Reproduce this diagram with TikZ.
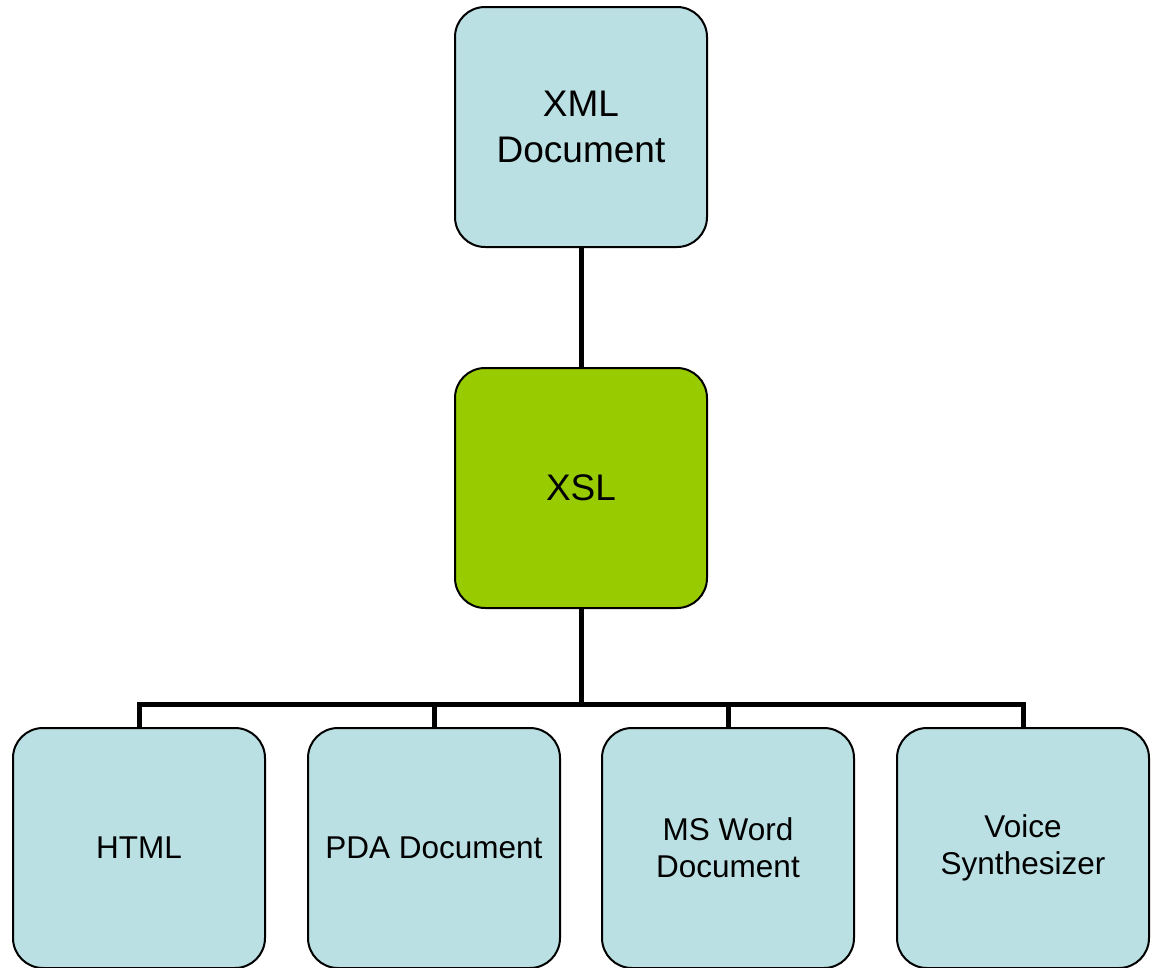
\documentclass[tikz,border=0pt]{standalone}
\usepackage{fontspec}
\setmainfont{Liberation Sans}
\definecolor{boxblue}{RGB}{186,224,227}
\definecolor{boxgreen}{RGB}{153,204,0}
\begin{document}
\begin{tikzpicture}[x=1pt,y=-1pt,
  box/.style={draw=black, line width=2pt, rounded corners=30pt, minimum width=252pt, minimum height=240pt, inner sep=0pt, align=center, fill=boxblue},
  bigtext/.style={font=\fontsize{37}{46}\selectfont},
  smalltext/.style={font=\fontsize{31.5}{37}\selectfont},
  conn/.style={draw=black, line width=5pt}]
\useasboundingbox (0,0) rectangle (1157,967);
\node[box,bigtext] (xml) at (581,127) {XML\\Document};
\node[box,bigtext,fill=boxgreen] (xsl) at (581,488) {XSL};
\node[box,smalltext] (html) at (139,848) {HTML};
\node[box,smalltext] (pda) at (434,848) {PDA Document};
\node[box,smalltext] (word) at (728,848) {MS Word\\Document};
\node[box,smalltext] (voice) at (1023,848) {Voice\\Synthesizer};
\coordinate (hub) at (581,704);
\draw[conn] (xml.south) -- (xsl.north);
\draw[conn] (xsl.south) -- (hub);
\draw[conn] (html.north) |- (hub) -| (voice.north);
\draw[conn] (pda.north) -- (pda.north |- hub);
\draw[conn] (word.north) -- (word.north |- hub);
\end{tikzpicture}
\end{document}
